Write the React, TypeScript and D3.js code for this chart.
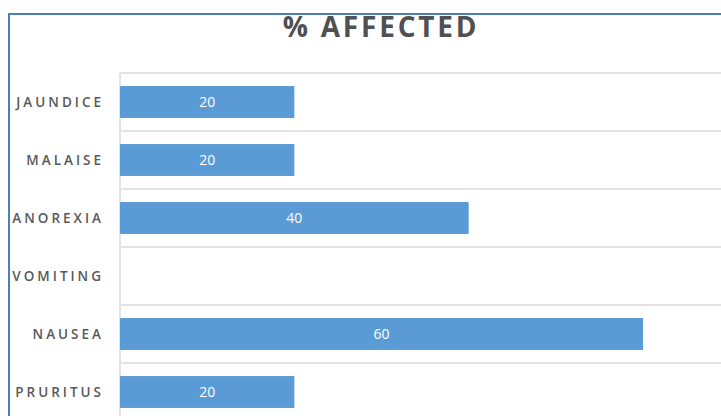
import React from "react";
import * as d3 from "d3";

const categories = ["JAUNDICE", "MALAISE", "ANOREXIA", "VOMITING", "NAUSEA", "PRURITUS"];
const values = [20, 20, 40, 0, 60, 20];
const title = "% AFFECTED";

export default function App() {
  const W = 721;
  const H = 416;
  const plotLeft = 120;
  const plotTop = 73;
  const band = 58;
  const x = d3.scaleLinear().domain([0, 60]).range([plotLeft, 643]);
  const y = d3
    .scaleBand<string>()
    .domain(categories)
    .range([plotTop, plotTop + band * categories.length])
    .paddingInner(0.45)
    .paddingOuter(0.225);
  const boundaries = d3.range(categories.length + 1).map((i) => plotTop + i * band);
  const font = "'Open Sans', 'Noto Sans', sans-serif";

  return (
    <svg
      width={W}
      height={H}
      style={{ position: "absolute", left: 0, top: 0, background: "#fff" }}
    >
      {boundaries.map((b, i) => (
        <line key={i} x1={plotLeft} x2={W} y1={b} y2={b} stroke="#E3E3E3" strokeWidth={2} />
      ))}
      <line x1={plotLeft} x2={plotLeft} y1={plotTop} y2={H + 10} stroke="#E3E3E3" strokeWidth={2} />
      {categories.map((c, i) => {
        const by = y(c)!;
        const bh = y.bandwidth();
        return (
          <g key={c}>
            {values[i] > 0 && (
              <rect x={x(0)} y={by} width={x(values[i]) - x(0)} height={bh} fill="#5B9BD5" />
            )}
            {values[i] > 0 && (
              <text
                x={(x(0) + x(values[i])) / 2}
                y={by + bh / 2}
                dy="0.36em"
                textAnchor="middle"
                fill="#fff"
                fontFamily={font}
                fontSize={14}
              >
                {values[i]}
              </text>
            )}
            <text
              x={104}
              y={by + bh / 2}
              dy="0.36em"
              textAnchor="end"
              fill="#595959"
              fontFamily={font}
              fontWeight={600}
              fontSize={13.5}
              letterSpacing={3}
            >
              {c}
            </text>
          </g>
        );
      })}
      <text
        x={381}
        y={37}
        textAnchor="middle"
        fill="#505050"
        fontFamily={font}
        fontWeight="bold"
        fontSize={28}
        letterSpacing={2.8}
      >
        {title}
      </text>
      <line x1={8} x2={W} y1={14} y2={14} stroke="#4A7EC0" strokeWidth={2} />
      <line x1={9} x2={9} y1={13} y2={H} stroke="#4A7EC0" strokeWidth={2} />
    </svg>
  );
}
